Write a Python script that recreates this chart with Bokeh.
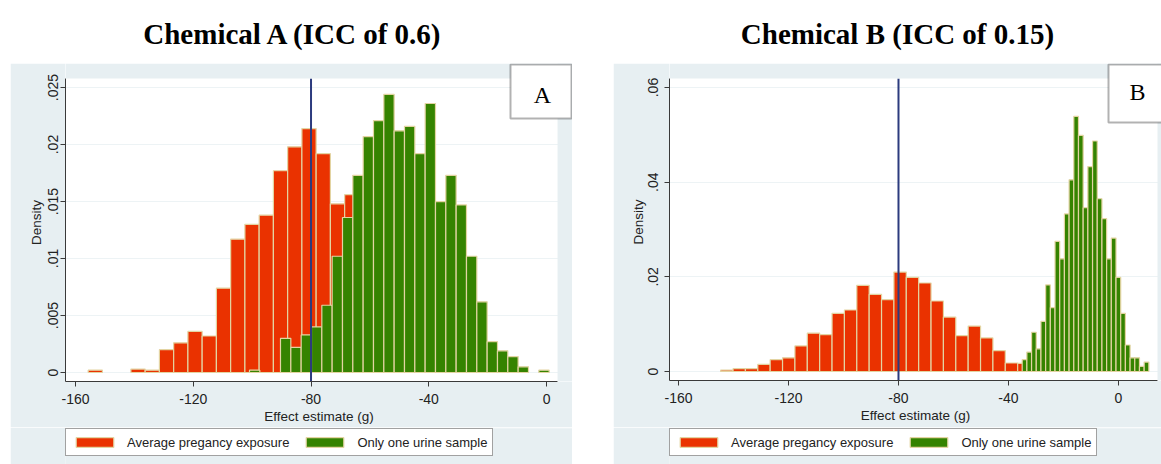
from bokeh.plotting import figure
from bokeh.models import (Label, Legend, LegendItem, FixedTicker, Title,
                          BoxAnnotation, Spacer, ColumnDataSource, Range1d)
from bokeh.layouts import row, column
from bokeh.embed import file_html
from bokeh.resources import INLINE

# ---------------- data ----------------
x_ticks = [-160, -120, -80, -40, 0]
x_tick_labels = ["-160", "-120", "-80", "-40", "0"]

a_yticks = [0, 0.005, 0.01, 0.015, 0.02, 0.025]
a_ytick_labels = ["0", ".005", ".01", ".015", ".02", ".025"]
b_yticks = [0, 0.02, 0.04, 0.06]
b_ytick_labels = ["0", ".02", ".04", ".06"]

true_effect = -80

# Chemical A (ICC 0.6)
a_avg_start, a_avg_width = -155.7, 4.84
a_avg_density = [0.0002, 0, 0, 0.0003, 0.0002, 0.0020, 0.0026, 0.0036, 0.0032,
                 0.0074, 0.0117, 0.0130, 0.0138, 0.0177, 0.0198, 0.0214, 0.0192,
                 0.0148, 0.0156, 0.0112, 0.0074, 0.0041, 0.0022, 0.0009, 0.0003]
a_one_start, a_one_width = -100.9, 3.51
a_one_density = [0.0002, 0, 0, 0.0030, 0.0022, 0.0033, 0.0040, 0.0059, 0.0102,
                 0.0136, 0.0173, 0.0207, 0.0221, 0.0244, 0.0212, 0.0216, 0.0192,
                 0.0236, 0.0150, 0.0173, 0.0147, 0.0102, 0.0062, 0.0027, 0.0019,
                 0.0014, 0.0005, 0, 0.0002]

# Chemical B (ICC 0.15)
b_avg_start, b_avg_width = -144.66, 4.5
b_avg_density = [0.0003, 0.0006, 0.0006, 0.0015, 0.0025, 0.0029, 0.0054, 0.0081,
                 0.0078, 0.0123, 0.0130, 0.0182, 0.0163, 0.0152, 0.0210, 0.0199,
                 0.0187, 0.0149, 0.0115, 0.0076, 0.0096, 0.0071, 0.0044, 0.0018,
                 0.0017]
b_one_start, b_one_width = -35.02, 1.706
b_one_density = [0.0025, 0.0041, 0.0083, 0.0048, 0.0106, 0.0183, 0.0135, 0.0275,
                 0.0238, 0.0333, 0.0405, 0.0539, 0.0499, 0.0346, 0.0433, 0.0487,
                 0.0365, 0.0323, 0.0238, 0.0282, 0.0199, 0.0123, 0.0056, 0.0029,
                 0.0029, 0.0011, 0.0020]

labels = ["Average pregancy exposure", "Only one urine sample"]
titles = ["Chemical A (ICC of 0.6)", "Chemical B (ICC of 0.15)"]
panel_letters = ["A", "B"]
x_title = "Effect estimate (g)"
y_title = "Density"

# ---------------- style ----------------
RED = "#ea3200"
GREEN = "#358300"
OUTLINE = "#e3d4a2"
BG = "#e7eff2"
NAVY = "#2c3b7e"
AXIS = "#3a3a3a"
TXT = "#222222"
SANS = "Liberation Sans"
SERIF = "Liberation Serif"
PANEL_H = 364
LEGEND_H = 37


def hist_source(start, width, dens):
    left, right, top = [], [], []
    for i, d in enumerate(dens):
        if d > 0:
            left.append(start + i * width)
            right.append(start + (i + 1) * width)
            top.append(d)
    return ColumnDataSource(dict(left=left, right=right, top=top,
                                 bottom=[0] * len(top)))


def add_hists(p, avg, one):
    r_avg = p.quad(left="left", right="right", top="top", bottom="bottom",
                   source=hist_source(*avg), fill_color=RED,
                   line_color=OUTLINE, line_width=1.2)
    r_one = p.quad(left="left", right="right", top="top", bottom="bottom",
                   source=hist_source(*one), fill_color=GREEN,
                   line_color=OUTLINE, line_width=1.2)
    return r_avg, r_one


def make_panel(avg, one, yticks, ylabels, xr, yr, white_x, white_y, fw, fh,
               border_left, ytick_standoff, ylab_standoff, xlab_offset,
               letter, box, letter_xy):
    p = figure(frame_width=fw, frame_height=fh, x_range=xr, y_range=yr,
               output_backend="svg", toolbar_location=None,
               min_border_left=border_left, min_border_right=0,
               min_border_top=0, min_border_bottom=PANEL_H - fh,
               border_fill_color=BG, background_fill_color="white",
               outline_line_color=None)
    add_hists(p, avg, one)
    p.segment(x0=[true_effect], x1=[true_effect], y0=[yr[0]], y1=[white_y],
              line_color=NAVY, line_width=2)

    p.xgrid.visible = False
    p.ygrid.grid_line_color = "#edf3f5"
    p.ygrid.ticker = FixedTicker(ticks=yticks)

    # bluish strips of the graph region that lie inside the frame
    p.add_layout(BoxAnnotation(bottom=white_y, fill_color=BG, fill_alpha=1,
                               line_color=None))
    if white_x < xr[1]:
        p.add_layout(BoxAnnotation(left=white_x, fill_color=BG, fill_alpha=1,
                                   line_color=None))

    for ax in (p.xaxis[0], p.yaxis[0]):
        ax.axis_line_color = AXIS
        ax.major_tick_line_color = AXIS
        ax.minor_tick_line_color = None
        ax.major_tick_out = 5
        ax.major_tick_in = 0
        ax.major_label_text_font = SANS
        ax.major_label_text_font_size = "14px"
        ax.major_label_text_color = TXT
        ax.axis_label_text_font = SANS
        ax.axis_label_text_font_size = "13.5px"
        ax.axis_label_text_font_style = "normal"
        ax.axis_label_text_color = TXT

    p.xaxis.ticker = FixedTicker(ticks=x_ticks)
    p.xaxis.major_label_overrides = {t: s for t, s in zip(x_ticks, x_tick_labels)}
    p.xaxis.major_label_standoff = 7
    p.xaxis.bounds = (xr[0], white_x)
    p.yaxis.ticker = FixedTicker(ticks=yticks)
    p.yaxis.major_label_overrides = {t: s for t, s in zip(yticks, ylabels)}
    p.yaxis.major_label_orientation = "vertical"
    p.yaxis.major_label_standoff = ytick_standoff
    p.yaxis.axis_label = y_title
    p.yaxis.axis_label_standoff = ylab_standoff
    p.yaxis.bounds = (yr[0], white_y)

    p.add_layout(Title(text=x_title, align="center", offset=xlab_offset,
                       standoff=0, text_font=SANS, text_font_size="13.5px",
                       text_font_style="normal", text_color=TXT), "below")

    bx0, bx1, by0, by1 = box
    p.add_layout(BoxAnnotation(left=bx0, right=bx1, bottom=by0, top=by1,
                               left_units="screen", right_units="screen",
                               bottom_units="screen", top_units="screen",
                               fill_color="white", fill_alpha=1,
                               line_color="black", line_width=2,
                               level="overlay"))
    p.add_layout(Label(x=letter_xy[0], y=letter_xy[1],
                       x_units="screen", y_units="screen", text=letter,
                       text_align="center", text_baseline="middle",
                       text_font=SERIF, text_font_size="24px",
                       text_color="black", level="overlay"))
    return p


def make_legend_fig(width, legend_left, avg, one):
    # the same histogram renderers, kept out of view, feed the legend swatches
    lf = figure(width=width, height=LEGEND_H, x_range=Range1d(10, 20),
                y_range=Range1d(10, 20), min_border_left=legend_left,
                min_border_right=0, min_border_top=1, min_border_bottom=0,
                toolbar_location=None, output_backend="svg",
                x_axis_type=None, y_axis_type=None, outline_line_color=None,
                border_fill_color=BG, background_fill_color=BG)
    lf.grid.visible = False
    r_avg, r_one = add_hists(lf, avg, one)
    legend = Legend(items=[LegendItem(label=labels[0], renderers=[r_avg]),
                           LegendItem(label=labels[1], renderers=[r_one])],
                    orientation="horizontal", location="top_left",
                    glyph_width=47, glyph_height=12, label_standoff=9,
                    spacing=12, padding=5, margin=0, label_height=16,
                    label_text_font=SANS, label_text_font_size="13px",
                    label_text_color=TXT,
                    border_line_color="#444444", border_line_width=1,
                    background_fill_color="white", background_fill_alpha=1)
    lf.add_layout(legend)
    return lf


A_avg = (a_avg_start, a_avg_width, a_avg_density)
A_one = (a_one_start, a_one_width, a_one_density)
B_avg = (b_avg_start, b_avg_width, b_avg_density)
B_one = (b_one_start, b_one_width, b_one_density)

pA = make_panel(A_avg, A_one, a_yticks, a_ytick_labels,
                (-163.4, 8.82), (-0.00079, 0.02711), 3.74, 0.02579,
                507, 318, 55, 2, 2, -31, panel_letters[0],
                (445, 506, 263, 317), (477, 287))
lA = make_legend_fig(562, 53, A_avg, A_one)

pB = make_panel(B_avg, B_one, b_yticks, b_ytick_labels,
                (-163.27, 15.64), (-0.0019, 0.06508), 14.18, 0.0619,
                492, 317, 56, 6, 0, -30, panel_letters[1],
                (439, 500, 258, 316), (468, 289))
lB = make_legend_fig(548, 50, B_avg, B_one)

tfig = figure(width=1161, height=63, x_range=(0, 1161), y_range=(0, 63),
              min_border=0, toolbar_location=None, output_backend="svg",
              x_axis_type=None, y_axis_type=None, outline_line_color=None,
              border_fill_color="white", background_fill_color="white")
tfig.grid.visible = False
tfig.add_layout(Label(x=293, y=30, text=titles[0], text_align="center",
                      text_baseline="middle", text_font=SERIF,
                      text_font_style="bold", text_font_size="29px",
                      text_color="black"))
tfig.add_layout(Label(x=897, y=30, text=titles[1], text_align="center",
                      text_baseline="middle", text_font=SERIF,
                      text_font_style="bold", text_font_size="29px",
                      text_color="black"))

layout = column(tfig, row(Spacer(width=10, height=PANEL_H + LEGEND_H),
                          column(pA, lA),
                          Spacer(width=41, height=PANEL_H + LEGEND_H),
                          column(pB, lB)))

open("out.html", "w").write(file_html(layout, INLINE))
